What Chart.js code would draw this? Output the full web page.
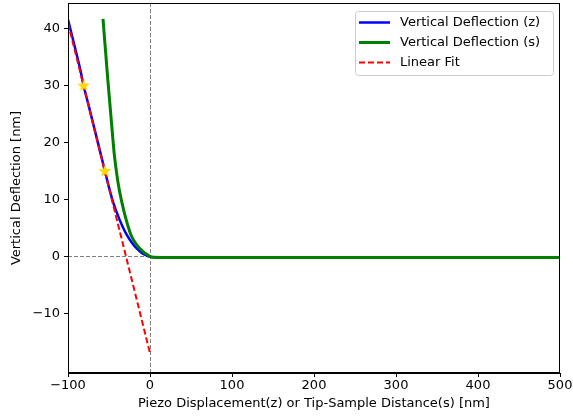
<!DOCTYPE html>
<html>
<head>
<meta charset="utf-8">
<script src="https://cdn.jsdelivr.net/npm/chart.js@4.4.1/dist/chart.umd.min.js"></script>
<style>
  html, body { margin: 0; padding: 0; background: #fff; }
  #wrap { width: 573px; height: 416px; position: relative; }
</style>
</head>
<body>
<div id="wrap"><canvas id="c" width="573" height="416"></canvas></div>
<script>
// ---- data ----
const zX = [-100, -95, -90, -85, -81, -75, -70, -65, -60, -55, -50, -45, -40, -35, -30, -25, -20, -15, -10, -5, -2, 0, 5,
            25, 50, 75, 100, 125, 150, 175, 200, 225, 250, 275, 300, 325, 350, 375, 400, 425, 450, 475, 500];
const zY = [41.6, 38.7, 35.8, 32.8, 30.0, 26.6, 23.7, 20.8, 17.9, 15.0, 12.1, 9.5, 7.5, 5.7, 4.2, 3.0, 2.0, 1.2, 0.6, 0.2, 0.0, -0.1, -0.15,
            -0.2, -0.2, -0.2, -0.2, -0.2, -0.2, -0.2, -0.2, -0.2, -0.2, -0.2, -0.2, -0.2, -0.2, -0.2, -0.2, -0.2, -0.2, -0.2, -0.2];
const sX = [-57.3, -51.6, -45.5, -43.9, -41.5, -38.6, -34.5, -29.6, -23.2, -16.3, -8.1, -3.5, 0, 5,
            25, 50, 75, 100, 125, 150, 175, 200, 225, 250, 275, 300, 325, 350, 375, 400, 425, 450, 475, 500];
const sY = [41.7, 31.3, 21.0, 18.4, 15.5, 12.6, 9.6, 6.7, 3.75, 2.0, 0.8, 0.3, 0.0, -0.15,
            -0.2, -0.2, -0.2, -0.2, -0.2, -0.2, -0.2, -0.2, -0.2, -0.2, -0.2, -0.2, -0.2, -0.2, -0.2, -0.2, -0.2, -0.2, -0.2, -0.2];
const fitX = [-100, 0];
const fitY = [41.0, -17.0];
const starX = [-81, -55];
const starY = [30, 15];
const xTicks = [-100, 0, 100, 200, 300, 400, 500];
const yTicks = [-10, 0, 10, 20, 30, 40];
const xRange = [-100, 500];
const yRange = [-20.5, 44.5];
const labels = ['Vertical Deflection (z)', 'Vertical Deflection (s)', 'Linear Fit'];

const pts = (xs, ys) => xs.map((x, i) => ({x: x, y: ys[i]}));

// star marker
const starCanvas = document.createElement('canvas');
starCanvas.width = 14; starCanvas.height = 14;
(function () {
  const g = starCanvas.getContext('2d');
  const cx = 7, cy = 7.3, R = 6.8, r = 2.7;
  g.beginPath();
  for (let i = 0; i < 10; i++) {
    const a = -Math.PI / 2 + i * Math.PI / 5;
    const rad = i % 2 === 0 ? R : r;
    const px = cx + rad * Math.cos(a), py = cy + rad * Math.sin(a);
    if (i === 0) g.moveTo(px, py); else g.lineTo(px, py);
  }
  g.closePath();
  g.fillStyle = '#FFD700';
  g.fill();
})();

const FONT = 'DejaVu Sans';
const ZERO_PAD = {left: 0, top: 0, right: 0, bottom: 0};
function noPad(s) {
  s.paddingLeft = 0; s.paddingRight = 0; s.paddingTop = 0; s.paddingBottom = 0;
  s.getPadding = () => Object.assign({}, ZERO_PAD);
}

const frame = {
  id: 'frame',
  beforeDatasetsDraw(chart) {
    const {ctx, chartArea: a, scales: {x, y}} = chart;
    ctx.save();
    ctx.strokeStyle = '#808080';
    ctx.lineWidth = 1;
    ctx.setLineDash([4, 2]);
    const x0 = Math.round(x.getPixelForValue(0)) + 0.5;
    const y0 = Math.round(y.getPixelForValue(0)) + 0.5;
    ctx.beginPath();
    ctx.moveTo(x0, a.top); ctx.lineTo(x0, a.bottom);
    ctx.moveTo(a.left, y0); ctx.lineTo(a.right, y0);
    ctx.stroke();
    ctx.restore();
  },
  afterDraw(chart) {
    const {ctx, chartArea: a} = chart;
    ctx.save();
    ctx.strokeStyle = '#000';
    ctx.lineWidth = 1;
    ctx.strokeRect(Math.round(a.left) + 0.5, Math.round(a.top) + 0.5,
                   Math.round(a.right - a.left) - 1, Math.round(a.bottom - a.top) - 1);
    // legend
    const bx = 355.5, by = 11.5, bw = 198, bh = 64;
    ctx.fillStyle = 'rgba(255,255,255,0.8)';
    ctx.strokeStyle = '#cccccc';
    ctx.beginPath();
    ctx.roundRect(bx, by, bw, bh, 3);
    ctx.fill();
    ctx.stroke();
    const ds = chart.data.datasets;
    ctx.font = '13px "' + FONT + '"';
    ctx.textAlign = 'left';
    ctx.textBaseline = 'middle';
    ctx.fillStyle = '#000';
    for (let i = 0; i < 3; i++) {
      const yy = 22.5 + i * 20;
      ctx.save();
      ctx.strokeStyle = ds[i].borderColor;
      ctx.lineWidth = ds[i].borderWidth;
      ctx.setLineDash(ds[i].borderDash || []);
      ctx.beginPath();
      ctx.moveTo(359, yy); ctx.lineTo(390, yy);
      ctx.stroke();
      ctx.restore();
      ctx.fillText(ds[i].label, 400, yy);
    }
    ctx.restore();
  }
};

new Chart(document.getElementById('c'), {
  type: 'scatter',
  data: {
    datasets: [
      { label: labels[0], data: pts(zX, zY), showLine: true, borderColor: '#0000ff', backgroundColor: '#0000ff',
        borderWidth: 2.5, pointRadius: 0, cubicInterpolationMode: 'monotone', order: 3 },
      { label: labels[1], data: pts(sX, sY), showLine: true, borderColor: '#008000', backgroundColor: '#008000',
        borderWidth: 3, pointRadius: 0, cubicInterpolationMode: 'monotone', order: 2 },
      { label: labels[2], data: pts(fitX, fitY), showLine: true, borderColor: '#ff0000', backgroundColor: '#ff0000',
        borderWidth: 2, borderDash: [6, 3], pointRadius: 0, order: 1 },
      { label: 'fit points', data: pts(starX, starY), showLine: false, pointStyle: starCanvas, pointRadius: 7, order: 0 }
    ]
  },
  options: {
    animation: false,
    responsive: false,
    layout: { autoPadding: false, padding: { top: 3, right: 13, left: 0, bottom: 0 } },
    plugins: { legend: { display: false }, tooltip: { enabled: false }, title: { display: false } },
    scales: {
      x: {
        type: 'linear', min: xRange[0], max: xRange[1],
        afterBuildTicks: s => { s.ticks = xTicks.map(v => ({value: v})); },
        afterFit: s => { s.height = 43; noPad(s); },
        grid: { display: true, drawOnChartArea: false, drawTicks: true, tickLength: 4, color: '#000', tickWidth: 1 },
        border: { display: true, color: '#000', width: 1 },
        ticks: { color: '#000', font: { family: FONT, size: 13 }, padding: 1, maxRotation: 0,
                 callback: v => String(v).replace('-', '\u2212') },
        title: { display: true, text: 'Piezo Displacement(z) or Tip-Sample Distance(s) [nm]', color: '#000',
                 font: { family: FONT, size: 13 }, padding: { top: 0, bottom: 5 } }
      },
      y: {
        type: 'linear', min: yRange[0], max: yRange[1],
        afterBuildTicks: s => { s.ticks = yTicks.map(v => ({value: v})); },
        afterFit: s => { s.width = 68; noPad(s); },
        grid: { display: true, drawOnChartArea: false, drawTicks: true, tickLength: 4, color: '#000', tickWidth: 1 },
        border: { display: true, color: '#000', width: 1 },
        ticks: { color: '#000', font: { family: FONT, size: 13 }, padding: 4,
                 callback: v => String(v).replace('-', '\u2212') },
        title: { display: true, text: 'Vertical Deflection [nm]', color: '#000',
                 font: { family: FONT, size: 13 }, padding: { top: 9, bottom: 0 } }
      }
    }
  },
  plugins: [frame]
});
</script>
</body>
</html>
